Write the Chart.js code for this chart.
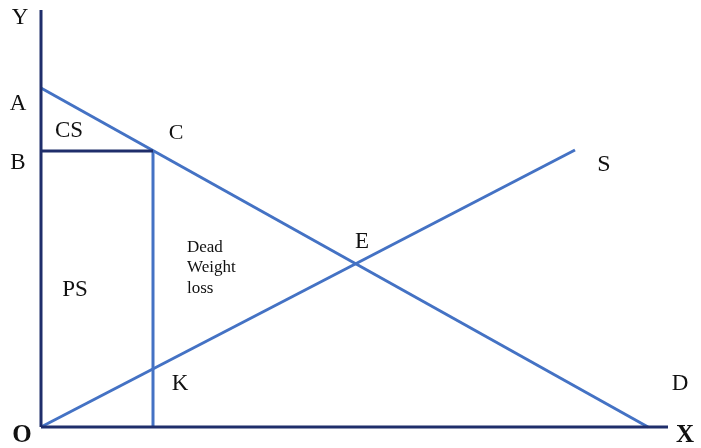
<!DOCTYPE html>
<html>
<head>
<meta charset="utf-8">
<script src="https://cdn.jsdelivr.net/npm/chart.js@4.4.1/dist/chart.umd.min.js"></script>
<style>
  html, body { margin: 0; padding: 0; background: #fff; }
  #wrap { width: 701px; height: 448px; position: relative; }
</style>
</head>
<body>
<div id="wrap"><canvas id="welfareChart"></canvas></div>
<script>
// Quantity / price units (origin at O)
const demandCurve = [{x: 0, y: 339}, {x: 607, y: 0}];      // A -> D
const supplyCurve = [{x: 0, y: 0}, {x: 534, y: 277}];       // O -> S
const priceLine = [{x: 0, y: 276}, {x: 112, y: 276}];       // B -> C
const quantityLine = [{x: 112, y: 276}, {x: 112, y: 0}];    // C -> K -> axis
const yAxisLine = [{x: 0, y: 0}, {x: 0, y: 417}];
const xAxisLine = [{x: 0, y: 0}, {x: 627, y: 0}];

// Text labels placed in the same units
const labelText = ['Y', 'A', 'B', 'CS', 'C', 'PS', 'E', 'S', 'K', 'D', 'O', 'X'];
const labelX = [-21, -23, -23, 28, 135, 34, 321, 563, 139, 639, -19, 644];
const labelY = [409, 323, 264, 296, 294, 137, 185, 262, 43, 43, -9, -9];
const labelBold = [false, false, false, false, false, false, false, false, false, false, true, true];
const labelSize = [23, 23, 23, 23, 22, 23, 23, 24, 23, 23, 25, 25];

const dwlLines = ['Dead', 'Weight', 'loss'];
const dwlX = 146;
const dwlY = [179, 159, 138];

const lineBlue = '#4472C4';
const axisNavy = '#1F2E6B';

const lineSet = (data, color) => ({
    data: data,
    showLine: true,
    borderColor: color,
    borderWidth: 3,
    pointRadius: 0,
    fill: false
});

// Draw the letters and the dead weight loss note
const textPlugin = {
    id: 'diagramText',
    afterDraw(chart) {
        const {ctx, scales: {x, y}} = chart;
        ctx.save();
        ctx.fillStyle = '#111';
        ctx.textAlign = 'center';
        ctx.textBaseline = 'middle';
        labelText.forEach((t, i) => {
            ctx.font = (labelBold[i] ? 'bold ' : '') + labelSize[i] + 'px "Liberation Serif", serif';
            ctx.fillText(t, x.getPixelForValue(labelX[i]), y.getPixelForValue(labelY[i]));
        });
        ctx.textAlign = 'left';
        ctx.font = '17px "Liberation Serif", serif';
        dwlLines.forEach((t, i) => {
            ctx.fillText(t, x.getPixelForValue(dwlX), y.getPixelForValue(dwlY[i]));
        });
        ctx.restore();
    }
};

new Chart(document.getElementById('welfareChart'), {
    type: 'scatter',
    data: {
        datasets: [
            lineSet(yAxisLine, axisNavy),
            lineSet(xAxisLine, axisNavy),
            lineSet(priceLine, axisNavy),
            lineSet(quantityLine, lineBlue),
            lineSet(supplyCurve, lineBlue),
            lineSet(demandCurve, lineBlue)
        ]
    },
    options: {
        responsive: true,
        maintainAspectRatio: false,
        animation: false,
        layout: { padding: { left: 41, right: 33, top: 10, bottom: 21 } },
        plugins: {
            legend: { display: false },
            tooltip: { enabled: false }
        },
        scales: {
            x: { type: 'linear', min: 0, max: 627, display: false },
            y: { type: 'linear', min: 0, max: 417, display: false }
        },
        elements: { line: { tension: 0 } },
        clip: false
    },
    plugins: [textPlugin]
});
</script>
</body>
</html>
